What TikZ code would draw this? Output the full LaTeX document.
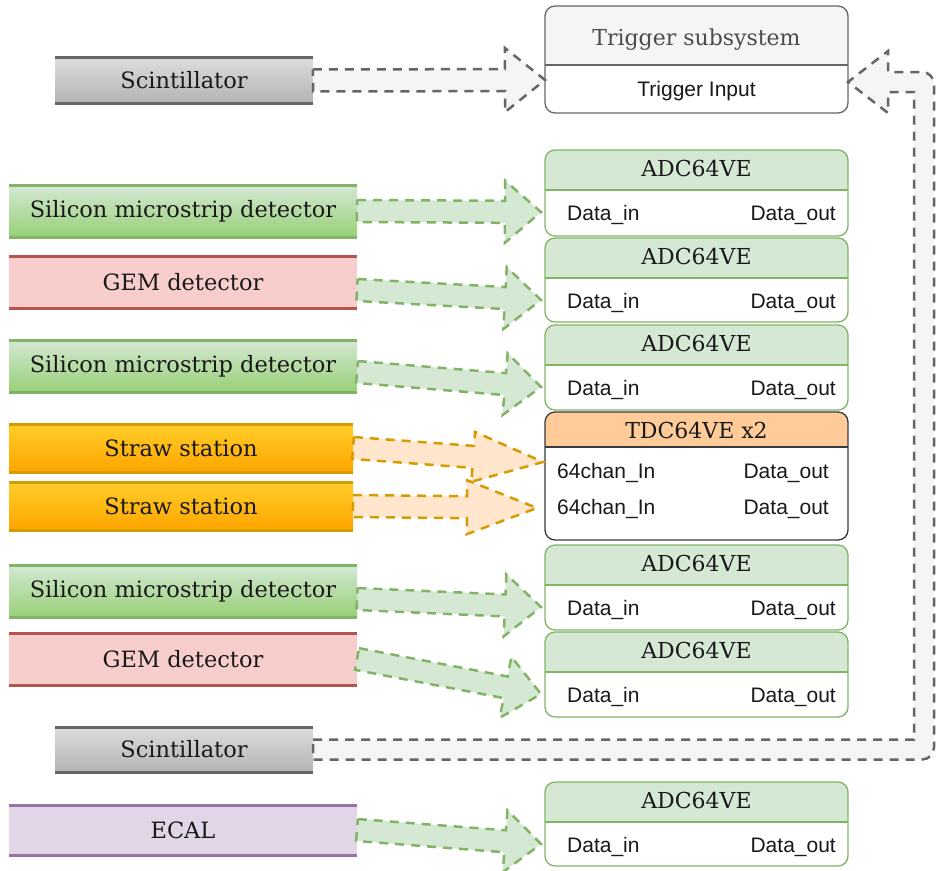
\documentclass[tikz,border=0pt]{standalone}
\usepackage{fontspec}
\setmainfont{DejaVu Serif}
\setsansfont{Liberation Sans}
\usetikzlibrary{calc,positioning}

\definecolor{grnfill}{HTML}{D5E8D4}
\definecolor{grndark}{HTML}{97D077}
\definecolor{grnline}{HTML}{82B366}
\definecolor{redfill}{HTML}{F8CECC}
\definecolor{redline}{HTML}{B85450}
\definecolor{orgtop}{HTML}{FFCD28}
\definecolor{orgbot}{HTML}{FFA500}
\definecolor{orgline}{HTML}{D79B00}
\definecolor{orgfill}{HTML}{FFE6CC}
\definecolor{orghead}{HTML}{FFCC99}
\definecolor{purfill}{HTML}{E1D5E7}
\definecolor{purline}{HTML}{9673A6}
\definecolor{gryfill}{HTML}{F5F5F5}
\definecolor{grybot}{HTML}{B3B3B3}
\definecolor{gryline}{HTML}{666666}
\definecolor{tdcline}{HTML}{36393D}

\tikzset{
  det/.style={minimum width=348, minimum height=52, inner sep=0pt, outer sep=0pt,
    font=\fontsize{22.5}{26}\selectfont, text=black!90},
  sidet/.style={det, top color=grnfill, bottom color=grndark},
  gemdet/.style={det, fill=redfill},
  strawdet/.style={det, top color=orgtop, bottom color=orgbot, minimum width=344, minimum height=48},
  scintdet/.style={det, top color=gryfill!90!black, bottom color=grybot, minimum width=258, minimum height=46},
  ecaldet/.style={det, fill=purfill, minimum height=50},
  module/.style={minimum width=303, inner sep=0pt, outer sep=0pt, fill=white},
  ttl/.style={font=\fontsize{22}{26}\selectfont, text=black!90, inner sep=0pt},
  port/.style={font=\sffamily\fontsize{21}{25}\selectfont, text=black!90, inner sep=0pt},
  flex/.style={line width=2.5pt, dash pattern=on 9pt off 7pt, line join=miter},
  grnarrow/.style={flex, draw=grnline, fill=grnfill},
  orgarrow/.style={flex, draw=orgline, fill=orgfill},
  gryarrow/.style={flex, draw=gryline, fill=gryfill}
}

% hollow block arrow: [style]{from}{tip}{head length}{head half width}
\newcommand{\flexarrow}[5][]{%
  \path (#2) coordinate (fa-s) (#3) coordinate (fa-t);
  \path ($(fa-t)!#4!(fa-s)$) coordinate (fa-h);
  \draw[#1] ($(fa-s)!11pt!90:(fa-t)$) -- ($(fa-h)!11pt!90:(fa-t)$)
    -- ($(fa-h)!#5!90:(fa-t)$) -- (fa-t) -- ($(fa-h)!#5!-90:(fa-t)$)
    -- ($(fa-h)!11pt!-90:(fa-t)$) -- ($(fa-s)!11pt!-90:(fa-t)$) -- cycle;}

\begin{document}
\begin{tikzpicture}[x=1pt, y=-1pt]
\useasboundingbox (0,0) rectangle (942,870);

% detectors
\node[scintdet] (scint1) at (184,80.5) {Scintillator};
\node[sidet] (si1) at (183,211) {Silicon microstrip detector};
\node[gemdet] (gem1) at (183,282) {GEM detector};
\node[sidet] (si2) at (183,366) {Silicon microstrip detector};
\node[strawdet] (straw1) at (181,448) {Straw station};
\node[strawdet] (straw2) at (181,506) {Straw station};
\node[sidet] (si3) at (183,591) {Silicon microstrip detector};
\node[gemdet] (gem2) at (183,659) {GEM detector};
\node[scintdet, minimum height=45] (scint2) at (184,749.5) {Scintillator};
\node[ecaldet] (ecal) at (183,830) {ECAL};

\foreach \n/\c in {scint1/gryline, si1/grnline, gem1/redline, si2/grnline,
    straw1/orgline, straw2/orgline, si3/grnline, gem2/redline, scint2/gryline, ecal/purline}
  \draw[\c, line width=3pt] (\n.north west) -- (\n.north east)
    (\n.south west) -- (\n.south east);

% trigger subsystem
\node[module, minimum height=107] (trig) at (696.5,59.5) {};
\fill[gryfill, rounded corners=10pt] (trig.north west) rectangle ([yshift=-59pt]trig.north east);
\fill[gryfill] ([yshift=-47pt]trig.north west) rectangle ([yshift=-59pt]trig.north east);
\draw[gryline, line width=1.3pt] ([yshift=-59pt]trig.north west) -- ([yshift=-59pt]trig.north east);
\draw[gryline, line width=1.3pt, rounded corners=10pt] (trig.north west) rectangle (trig.south east);
\node[ttl, text=black!70, anchor=base] (trig-t) at ([yshift=-39pt]trig.north) {Trigger subsystem};
\node[port, anchor=base] (trig-in) at ([yshift=-90pt]trig.north) {Trigger Input};
\coordinate (trig-tipL) at ([yshift=-74pt]trig.north west);
\coordinate (trig-tipR) at ([yshift=-76pt]trig.north east);

% ADC64VE modules
\foreach \n/\t/\h in {adc1/150/86, adc2/238/84, adc3/325/85, adc4/545/85, adc5/632/85, adc6/782/84} {
  \node[module, minimum height=\h] (\n) at (696.5,{\t+\h/2}) {};
  \fill[grnfill, rounded corners=10pt] (\n.north west) rectangle ([yshift=-40pt]\n.north east);
  \fill[grnfill] ([yshift=-28pt]\n.north west) rectangle ([yshift=-40pt]\n.north east);
  \draw[grnline, line width=1.3pt] ([yshift=-40pt]\n.north west) -- ([yshift=-40pt]\n.north east);
  \draw[grnline, line width=1.3pt, rounded corners=10pt] (\n.north west) rectangle (\n.south east);
  \node[ttl, anchor=base] (\n-t) at ([yshift=-26pt]\n.north) {ADC64VE};
  \node[port, anchor=base west] (\n-in) at ([xshift=22pt, yshift=-70pt]\n.north west) {Data\_in};
  \node[port, anchor=base east] (\n-out) at ([xshift=-12pt, yshift=-70pt]\n.north east) {Data\_out};
  \coordinate (\n-tip) at ([xshift=-4pt, yshift=-62pt]\n.north west);
}

% TDC64VE module
\node[module, minimum height=128] (tdc) at (696.5,476) {};
\fill[orghead, rounded corners=10pt] (tdc.north west) rectangle ([yshift=-35pt]tdc.north east);
\fill[orghead] ([yshift=-23pt]tdc.north west) rectangle ([yshift=-35pt]tdc.north east);
\draw[tdcline, line width=1.3pt] ([yshift=-35pt]tdc.north west) -- ([yshift=-35pt]tdc.north east);
\draw[tdcline, line width=1.3pt, rounded corners=10pt] (tdc.north west) rectangle (tdc.south east);
\node[ttl, anchor=base] (tdc-t) at ([yshift=-26pt]tdc.north) {TDC64VE x2};
\node[port, anchor=base west] (tdc-in1) at ([xshift=12pt, yshift=-66pt]tdc.north west) {64chan\_In};
\node[port, anchor=base west] (tdc-in2) at ([xshift=12pt, yshift=-102pt]tdc.north west) {64chan\_In};
\node[port, anchor=base east] (tdc-out1) at ([xshift=-19pt, yshift=-66pt]tdc.north east) {Data\_out};
\node[port, anchor=base east] (tdc-out2) at ([xshift=-19pt, yshift=-102pt]tdc.north east) {Data\_out};
\coordinate (tdc-tip1) at ([xshift=-2pt, yshift=-50pt]tdc.north west);
\coordinate (tdc-tip2) at ([xshift=-8pt, yshift=-96pt]tdc.north west);

% connections
\flexarrow[gryarrow]{scint1.east}{trig-tipL}{40pt}{32pt}
\flexarrow[grnarrow]{si1.east}{adc1-tip}{36pt}{31pt}
\flexarrow[grnarrow]{$(gem1.east)+(0,8)$}{adc2-tip}{36pt}{31pt}
\flexarrow[grnarrow]{$(si2.east)+(0,6)$}{adc3-tip}{36pt}{31pt}
\flexarrow[orgarrow]{straw1.east}{tdc-tip1}{70pt}{25pt}
\flexarrow[orgarrow]{straw2.east}{tdc-tip2}{70pt}{27pt}
\flexarrow[grnarrow]{$(si3.east)+(0,8)$}{adc4-tip}{36pt}{31pt}
\flexarrow[grnarrow]{gem2.east}{adc5-tip}{36pt}{31pt}
\flexarrow[grnarrow]{ecal.east}{adc6-tip}{36pt}{31pt}

% scintillator loop back to the trigger input
\draw[gryarrow] ($(scint2.east)+(0,-10)$) -- (914,739.5) -- (914,92) -- (888,92)
  -- (888,113) -- (trig-tipR) -- (888,51) -- (888,72) [rounded corners=12pt] -- (934,72)
  -- (934,759.5) [sharp corners] -- ($(scint2.east)+(0,10)$) -- cycle;
\end{tikzpicture}
\end{document}
